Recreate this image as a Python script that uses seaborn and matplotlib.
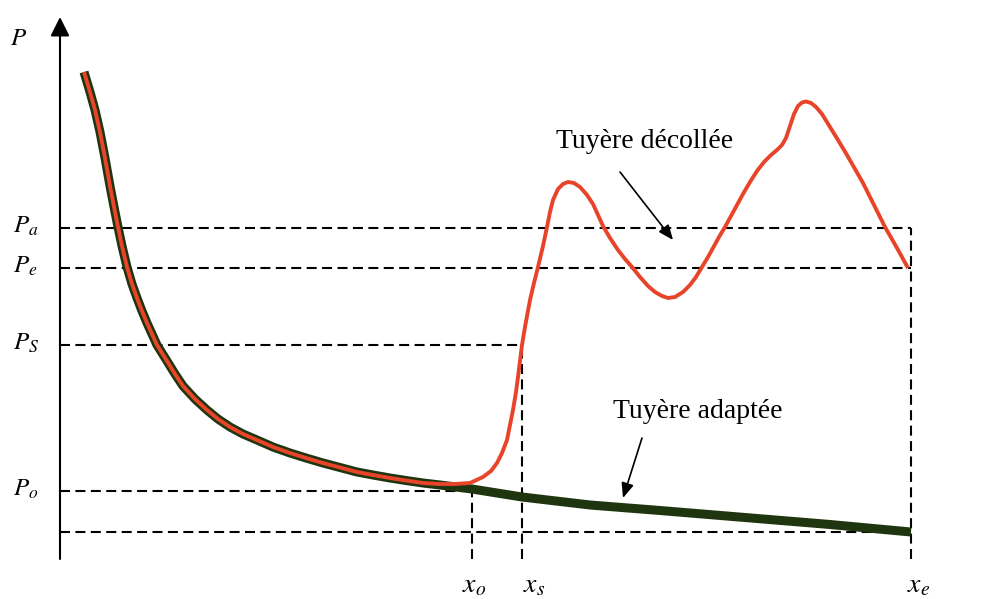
import matplotlib
matplotlib.use("Agg")
import matplotlib.pyplot as plt
import seaborn as sns
import pandas as pd

sns.set_theme(style="white")
plt.rcParams['font.family'] = ['Liberation Serif', 'DejaVu Serif']
plt.rcParams['mathtext.fontset'] = 'stix'
plt.rcParams['text.color'] = 'black'

# ---- data (arbitrary units) ----
# shared descending branch (both nozzles)
common_x = [2.4, 3.0, 3.5, 4.0, 4.5, 5.0, 5.5, 5.8, 6.2, 6.7, 7.2, 7.7, 8.2, 8.7, 9.2,
            9.7, 10.7, 11.5, 12.3, 13.5, 14.7, 15.8, 17.0, 18.3, 19.7, 21.3, 23.0,
            24.6, 26.3, 28.0, 29.7, 31.3, 33.0, 34.6, 36.3]
common_p = [48.7, 46.7, 44.9, 42.7, 40.1, 37.3, 34.7, 33.2, 31.3, 29.2, 27.5, 26.1,
            24.8, 23.6, 22.5, 21.4, 19.8, 18.5, 17.3, 16.0, 14.9, 14.0, 13.2, 12.5,
            11.9, 11.2, 10.6, 10.1, 9.6, 9.15, 8.7, 8.4, 8.1, 7.85, 7.6]

# adapted nozzle continuation
adapt_tail_x = [38.0, 39.6, 41.2, 46.2, 53.0, 60.0, 69.7, 77.0, 85.1]
adapt_tail_p = [7.4, 7.2, 7.0, 6.2, 5.4, 4.85, 4.05, 3.45, 2.7]

# separated nozzle continuation
sep_tail_x = [38.0, 39.5, 41.0, 42.3, 43.1, 43.7, 44.2, 44.7, 45.0, 45.3, 45.6, 45.8,
              46.0, 46.2, 46.5, 47.0, 47.4, 47.8, 48.3, 48.7, 49.0, 49.3, 49.8, 50.3,
              50.8, 51.4, 52.0, 52.7, 53.3, 53.8, 54.3, 55.0, 55.8, 56.5, 57.2, 58.0,
              58.8, 59.5, 60.2, 60.8, 61.5, 62.3, 63.0, 63.6, 64.2, 64.8, 65.3, 65.9,
              66.5, 67.1, 67.7, 68.3, 69.0, 69.7, 70.4, 71.1, 71.7, 72.2, 72.6, 73.0,
              73.4, 73.8, 74.2, 74.6, 75.1, 75.6, 76.2, 77.0, 77.8, 78.7, 79.5, 80.3,
              81.4, 82.5, 83.7, 84.8]
sep_tail_p = [7.5, 7.5, 7.6, 8.2, 8.8, 9.6, 10.6, 11.9, 13.4, 14.9, 16.7, 18.2, 19.8,
              21.4, 23.2, 25.9, 27.6, 29.2, 31.3, 33.2, 34.7, 35.9, 37.0, 37.5, 37.7,
              37.6, 37.2, 36.4, 35.5, 34.4, 33.3, 32.1, 30.9, 30.0, 29.2, 28.2, 27.3,
              26.7, 26.3, 26.1, 26.2, 26.7, 27.4, 28.2, 29.2, 30.2, 31.1, 32.2, 33.2,
              34.3, 35.4, 36.5, 37.7, 38.8, 39.7, 40.4, 40.9, 41.4, 42.1, 43.3, 44.5,
              45.3, 45.65, 45.75, 45.6, 45.2, 44.5, 43.2, 41.9, 40.4, 39.0, 37.6, 35.4,
              33.2, 31.1, 29.1]

# reference levels
P_a, P_e, P_S, P_o, P_min = 33.1, 29.1, 21.4, 6.8, 2.7
x_o, x_s, x_e = 41.2, 46.2, 85.1

p_labels = {'$P_a$': P_a, '$P_e$': P_e, '$P_S$': P_S, '$P_o$': P_o}
x_labels = {'$x_o$': x_o, '$x_s$': x_s, '$x_e$': x_e}

df_adapt = pd.DataFrame({'x': common_x + adapt_tail_x, 'P': common_p + adapt_tail_p})
df_sep = pd.DataFrame({'x': common_x + sep_tail_x, 'P': common_p + sep_tail_p})

# ---- figure ----
fig = plt.figure(figsize=(9.95, 5.99), dpi=100)
ax = fig.add_axes([0, 0, 1, 1])
ax.set_xlim(-6.0, 93.5)
ax.set_ylim(-4.0, 55.9)
ax.axis('off')

dash = dict(color='black', lw=1.5, dashes=(4.8, 2.6))
# horizontal dashed levels
ax.plot([0, x_e], [P_a, P_a], **dash)
ax.plot([0, x_e], [P_e, P_e], **dash)
ax.plot([0, x_s], [P_S, P_S], **dash)
ax.plot([0, x_o], [P_o, P_o], **dash)
ax.plot([0, x_e], [P_min, P_min], **dash)
# vertical dashed
ax.plot([x_o, x_o], [0, P_o], **dash)
ax.plot([x_s, x_s], [0, P_S], **dash)
ax.plot([x_e, x_e], [0, P_a], **dash)

# curves
sns.lineplot(data=df_adapt, x='x', y='P', sort=False, estimator=None, ax=ax,
             color='#1f3510', lw=6.5, solid_capstyle='butt', solid_joinstyle='round')
sns.lineplot(data=df_sep, x='x', y='P', sort=False, estimator=None, ax=ax,
             color='#e8442a', lw=2.8, solid_capstyle='butt', solid_joinstyle='round')

# axes with arrows
axis_arrow = dict(arrowstyle='-|>,head_length=0.4,head_width=0.2', lw=1.5,
                  color='black', mutation_scale=29, shrinkA=0, shrinkB=0)
ax.annotate('', xy=(0, 54.2), xytext=(0, 0), arrowprops=axis_arrow)
ax.annotate('', xy=(94.2, 0), xytext=(0, 0), arrowprops=axis_arrow)

# labels
ax.text(-5.0, 51.4, '$P$', fontsize=18, ha='left', va='baseline', color='black')
for lab, yv in p_labels.items():
    ax.text(-4.7, yv - 0.45, lab, fontsize=18, ha='left', va='baseline', color='black')
offs = {'$x_o$': -1.0, '$x_s$': 0.1, '$x_e$': -0.4}
for lab, xv in x_labels.items():
    ax.text(xv + offs[lab], -3.3, lab, fontsize=20, ha='left', va='baseline',
            color='black')

ann_arrow = dict(arrowstyle='-|>,head_length=0.6,head_width=0.25', lw=1.2,
                 color='black', mutation_scale=15, shrinkA=0, shrinkB=0)
ax.text(58.5, 41.7, 'Tuyère décollée', fontsize=20, ha='center', va='center',
        color='black')
ax.annotate('', xy=(61.3, 31.9), xytext=(56.0, 38.7), arrowprops=ann_arrow)
ax.text(63.8, 14.7, 'Tuyère adaptée', fontsize=20, ha='center', va='center',
        color='black')
ax.annotate('', xy=(56.3, 6.1), xytext=(58.2, 12.1), arrowprops=ann_arrow)

fig.savefig('out.png', dpi=100)
